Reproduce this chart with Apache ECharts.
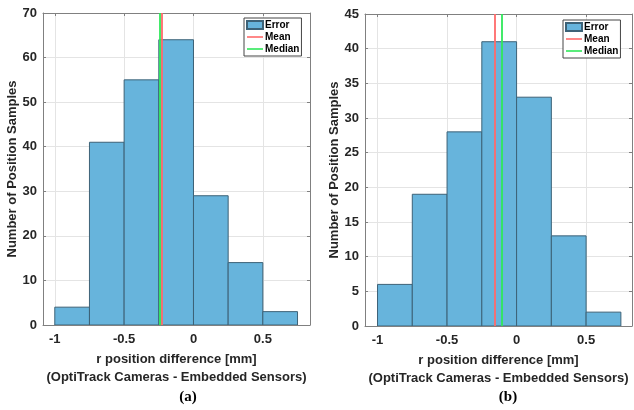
<!DOCTYPE html>
<html>
<head>
<meta charset="utf-8">
<script src="https://cdn.jsdelivr.net/npm/echarts@6/dist/echarts.min.js"></script>
<style>html,body{margin:0;padding:0;background:#fff}#c{width:634px;height:410px}</style>
</head>
<body>
<div id="c"></div>
<script>
// ---- data ----
const BIN_EDGES = [-1, -0.75, -0.5, -0.25, 0, 0.25, 0.5, 0.75];
const COUNTS_A = [4, 41, 55, 64, 29, 14, 3];
const COUNTS_B = [6, 19, 28, 41, 33, 13, 2];
const MEAN_A = -0.225, MEDIAN_A = -0.236;
const MEAN_B = -0.163, MEDIAN_B = -0.112;
const X_TICKS = [-1, -0.5, 0, 0.5];
const Y_MAX_A = 70, Y_STEP_A = 10;
const Y_MAX_B = 45, Y_STEP_B = 5;
const LEGEND_NAMES = ['Error', 'Mean', 'Median'];
const X_NAME = 'r position difference [mm]\n(OptiTrack Cameras - Embedded Sensors)';
const Y_NAME = 'Number of Position Samples';
const CAPTIONS = ['(a)', '(b)'];

// ---- styles ----
const FILL = '#67b4dc';
const EDGE = '#3d6277';
const MEAN_C = '#ff6a6a';
const MED_C = '#2fe85a';
const AXIS_C = '#808080';
const GRID_C = '#e4e4e4';
const TXT = '#262626';
const FONT = 'Liberation Sans, Arial, sans-serif';
const LINE_ICON = 'path://M0,0L16,0L16,1.6L0,1.6Z';

function binsData(counts) {
  return counts.map((c, i) => [BIN_EDGES[i], BIN_EDGES[i + 1], c]);
}

function renderBin(params, api) {
  const p0 = api.coord([api.value(0), api.value(2)]);
  const p1 = api.coord([api.value(1), 0]);
  return {
    type: 'rect',
    shape: { x: p0[0], y: p0[1], width: p1[0] - p0[0], height: p1[1] - p0[1] },
    style: { fill: FILL, stroke: EDGE, lineWidth: 1 }
  };
}

function xAxes(gi, min, max) {
  return [{
    type: 'value', gridIndex: gi, min: min, max: max, position: 'bottom',
    axisLine: { show: true, onZero: false, lineStyle: { color: AXIS_C, width: 1 } },
    axisTick: { show: true, inside: true, length: 3, customValues: X_TICKS, lineStyle: { color: AXIS_C } },
    axisLabel: { customValues: X_TICKS, color: TXT, fontWeight: 'bold', fontSize: 13, fontFamily: FONT, margin: 8 },
    splitLine: { show: true, customValues: X_TICKS, lineStyle: { color: GRID_C, width: 1 } },
    name: X_NAME, nameLocation: 'middle', nameGap: 22,
    nameTextStyle: { color: TXT, fontWeight: 'bold', fontSize: 13, fontFamily: FONT, lineHeight: 18 }
  }, {
    type: 'value', gridIndex: gi, min: min, max: max, position: 'top',
    axisLine: { show: true, onZero: false, lineStyle: { color: AXIS_C, width: 1 } },
    axisTick: { show: true, inside: true, length: 3, customValues: X_TICKS, lineStyle: { color: AXIS_C } },
    axisLabel: { show: false }, splitLine: { show: false }
  }];
}

function yAxes(gi, max, step) {
  return [{
    type: 'value', gridIndex: gi, min: 0, max: max, interval: step, position: 'left',
    axisLine: { show: true, onZero: false, lineStyle: { color: AXIS_C, width: 1 } },
    axisTick: { show: true, inside: true, length: 3, lineStyle: { color: AXIS_C } },
    axisLabel: { color: TXT, fontWeight: 'bold', fontSize: 13, fontFamily: FONT, margin: 6 },
    splitLine: { show: true, lineStyle: { color: GRID_C, width: 1 } },
    name: Y_NAME, nameLocation: 'middle', nameGap: 22, nameRotate: 90,
    nameTextStyle: { color: TXT, fontWeight: 'bold', fontSize: 13, fontFamily: FONT }
  }, {
    type: 'value', gridIndex: gi, min: 0, max: max, interval: step, position: 'right',
    axisLine: { show: true, onZero: false, lineStyle: { color: AXIS_C, width: 1 } },
    axisTick: { show: true, inside: true, length: 3, lineStyle: { color: AXIS_C } },
    axisLabel: { show: false }, splitLine: { show: false }
  }];
}

function seriesFor(ai, counts, mean, median) {
  const xi = ai * 2, yi = ai * 2;
  const ml = (v, c) => ({
    silent: true, symbol: ['none', 'none'], animation: false,
    label: { show: false },
    lineStyle: { color: c, width: 1.8, type: 'solid' },
    emphasis: { disabled: true },
    data: [{ xAxis: v }]
  });
  return [{
    name: 'Error', type: 'custom', xAxisIndex: xi, yAxisIndex: yi,
    renderItem: renderBin, data: binsData(counts), clip: true,
    itemStyle: { color: FILL, borderColor: EDGE, borderWidth: 1 }, z: 2
  }, {
    name: 'Mean', type: 'line', xAxisIndex: xi, yAxisIndex: yi, data: [],
    symbol: 'none', lineStyle: { color: MEAN_C, width: 1.8 }, itemStyle: { color: MEAN_C },
    markLine: ml(mean, MEAN_C), z: 3
  }, {
    name: 'Median', type: 'line', xAxisIndex: xi, yAxisIndex: yi, data: [],
    symbol: 'none', lineStyle: { color: MED_C, width: 1.8 }, itemStyle: { color: MED_C },
    markLine: ml(median, MED_C), z: 3
  }];
}

function legendAt(left, top) {
  return {
    left: left, top: top, orient: 'vertical', selectedMode: false,
    backgroundColor: '#fff', borderColor: '#444', borderWidth: 1, borderRadius: 0,
    padding: [2, 2, 2, 2], itemGap: 2, itemWidth: 16, itemHeight: 8,
    symbolKeepAspect: true,
    textStyle: { color: '#000', fontWeight: 'bold', fontSize: 10, fontFamily: FONT, padding: [0, 0, 0, -3] },
    data: [
      { name: LEGEND_NAMES[0], icon: 'rect' },
      { name: LEGEND_NAMES[1], icon: LINE_ICON, itemStyle: { color: MEAN_C, borderWidth: 0 } },
      { name: LEGEND_NAMES[2], icon: LINE_ICON, itemStyle: { color: MED_C, borderWidth: 0 } }
    ]
  };
}

const chart = echarts.init(document.getElementById('c'), null, { renderer: 'canvas' });
chart.setOption({
  animation: false,
  backgroundColor: '#fff',
  title: [
    { text: CAPTIONS[0], left: 183, top: 385, textAlign: 'center',
      textStyle: { fontFamily: 'Liberation Serif, Times New Roman, serif', fontWeight: 'bold', fontSize: 15, color: '#000' } },
    { text: CAPTIONS[1], left: 503, top: 385, textAlign: 'center',
      textStyle: { fontFamily: 'Liberation Serif, Times New Roman, serif', fontWeight: 'bold', fontSize: 15, color: '#000' } }
  ],
  grid: [
    { left: 43, right: 324, top: 13, bottom: 85 },
    { left: 365, right: 2, top: 14, bottom: 84 }
  ],
  legend: [legendAt(244, 18), legendAt(563, 20)],
  xAxis: xAxes(0, -1.085, 0.84).concat(xAxes(1, -1.09, 0.83)),
  yAxis: yAxes(0, Y_MAX_A, Y_STEP_A).concat(yAxes(1, Y_MAX_B, Y_STEP_B)),
  series: seriesFor(0, COUNTS_A, MEAN_A, MEDIAN_A).concat(seriesFor(1, COUNTS_B, MEAN_B, MEDIAN_B))
});
</script>
</body>
</html>
